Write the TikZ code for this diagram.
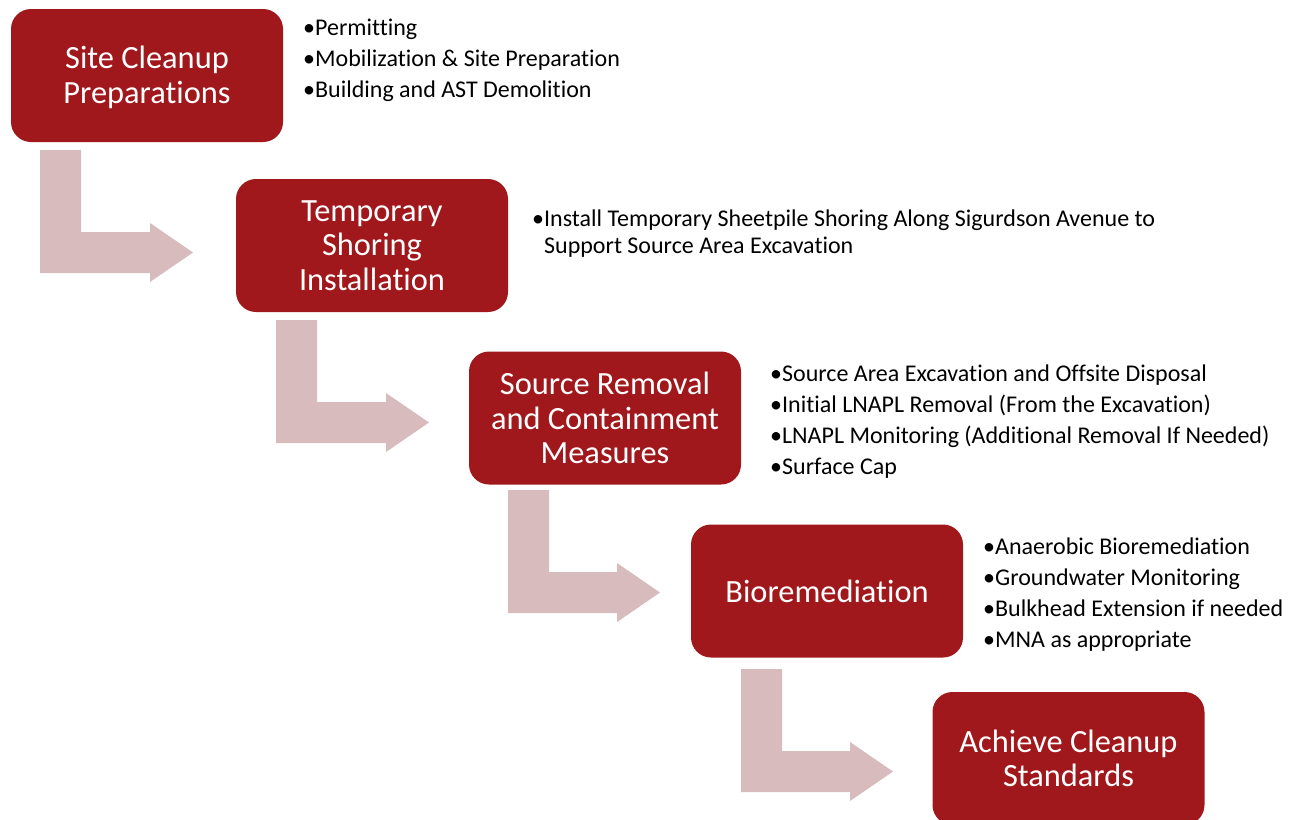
\documentclass[tikz,border=0pt]{standalone}
\usepackage{fontspec}
\setmainfont{Carlito}[Ligatures=NoCommon]
\definecolor{boxred}{RGB}{160,24,27}
\definecolor{arrowpink}{RGB}{216,187,188}
\newcommand\bentarrow[4]{%
  \fill[arrowpink] (#1,#2) -- (#1+41,#2) -- (#1+41,#3-41) -- (#4-43,#3-41) -- (#4-43,#3-50)
    -- (#4,#3-20.5) -- (#4-43,#3+9) -- (#4-43,#3) -- (#1,#3) -- cycle;}
\begin{document}
\begin{tikzpicture}[x=1pt,y=-1pt,
  stepbox/.style={fill=boxred, rounded corners=20pt, minimum width=272pt, minimum height=133pt,
    text=white, font=\fontsize{32.4}{34.5}\selectfont, align=center, inner sep=0pt},
  bullets/.style={anchor=base west, inner sep=0pt, align=left, font=\fontsize{24}{31}\selectfont}]
\useasboundingbox (0,0) rectangle (1292,819);
\clip (0,0) rectangle (1292,819);
\node[stepbox] (s1) at (147,75.5) {\rule{0pt}{26pt}Site Cleanup\\Preparations};
\node[stepbox] (s2) at (372,245.5) {Temporary\\Shoring\\Installation};
\node[stepbox] (s3) at (605,418) {Source Removal\\and Containment\\Measures};
\node[stepbox] (s4) at (827,591) {Bioremediation};
\node[stepbox] (s5) at (1068.5,758.5) {Achieve Cleanup\\Standards};
\bentarrow{40}{150}{273}{193}
\bentarrow{276}{320}{443}{429}
\bentarrow{508}{490}{613}{660}
\bentarrow{741}{669}{792}{893}
\node[bullets] (b1) at (303,97) {•Permitting\\•Mobilization \& Site Preparation\\•Building and AST Demolition};
\node[bullets, font=\fontsize{24}{27}\selectfont] (b2) at (532,253) {•Install Temporary Sheetpile Shoring Along Sigurdson Avenue to\\\hphantom{•}Support Source Area Excavation};
\node[bullets] (b3) at (770,474) {•Source Area Excavation and Offsite Disposal\\•Initial LNAPL Removal (From the Excavation)\\•LNAPL Monitoring (Additional Removal If Needed)\\•Surface Cap};
\node[bullets] (b4) at (983,647) {•Anaerobic Bioremediation\\•Groundwater Monitoring\\•Bulkhead Extension if needed\\•MNA as appropriate};
\end{tikzpicture}
\end{document}
